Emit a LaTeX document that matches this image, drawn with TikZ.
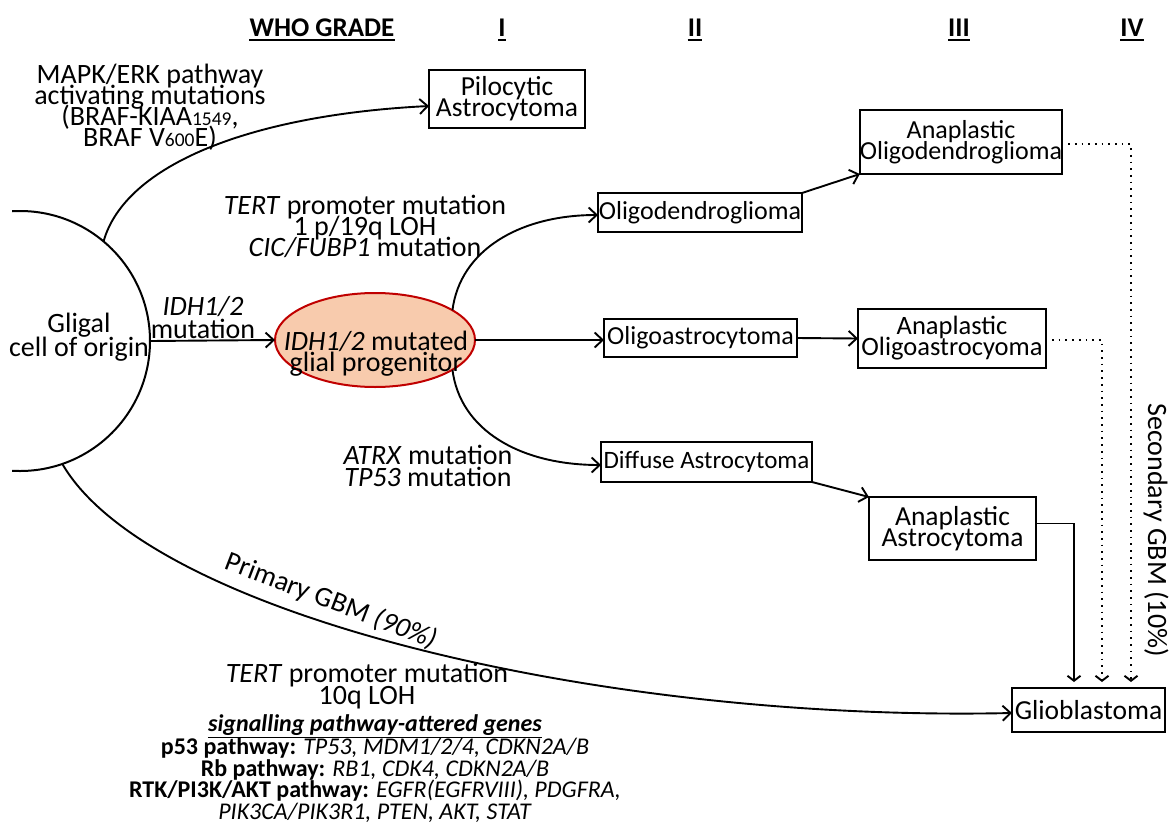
\documentclass[tikz,border=0pt]{standalone}
\usepackage{fontspec}
\setmainfont{Carlito}
\usetikzlibrary{arrows.meta,shapes.geometric}
\definecolor{peach}{HTML}{F8CBAD}
\definecolor{darkred}{HTML}{C00000}
\newcommand\myfs[2]{\fontsize{#1}{#2}\selectfont\lineskiplimit=-60pt\relax}
\begin{document}
\begin{tikzpicture}[x=1pt,y=-1pt,
  box/.style={draw, line width=2pt, inner sep=0pt, outer sep=0pt, align=center, font=\myfs{26}{21}},
  bigbox/.style={box, font=\myfs{27.5}{21}},
  lbl/.style={align=center, inner sep=0pt, font=\myfs{28}{21}},
  arr/.style={line width=1.9pt, -{Straight Barb[length=8pt,width=15pt]}},
  varr/.style={line width=1.9pt, -{Straight Barb[length=5pt,width=13pt]}, shorten >=6pt},
  dotl/.style={line width=1.7pt, dash pattern=on 1.7pt off 5pt, -{Straight Barb[length=5pt,width=13pt,line width=1.9pt]}, shorten >=6pt},
  uline/.style={line width=2pt},
  grade/.style={inner sep=0pt, anchor=base, font=\bfseries\myfs{27}{27}}]
\useasboundingbox (0,0) rectangle (1176,825);

% header
\node[grade] (who) at (322,36) {WHO GRADE};
\node[grade] (g1) at (502,36) {I};
\node[grade] (g2) at (695,36) {II};
\node[grade] (g3) at (959,36) {III};
\node[grade] (g4) at (1132,36) {IV};
\foreach \n in {who,g1,g2,g3,g4}
  \draw[uline] ([yshift=-4pt]\n.base west) -- ([yshift=-4pt]\n.base east);

% cell of origin
\begin{scope}
  \clip (12,0) rectangle (1176,825);
  \node[circle, draw, line width=2pt, minimum size=260pt, inner sep=0pt, outer sep=0pt] (origin) at (20,341) {};
\end{scope}
\node[lbl, font=\myfs{28}{24}] (origtext) at (79,337) {Gligal\\cell of origin};

% progenitor
\node[ellipse, draw=darkred, fill=peach, line width=2pt, minimum width=200pt, minimum height=94pt, inner sep=0pt, outer sep=0pt] (prog) at (375,340) {};
\node[lbl] (progtext) at (376,354) {\textit{IDH1/2} mutated\\glial progenitor};

% boxes
\node[bigbox, minimum width=156pt, minimum height=58pt] (pilo) at (507,99) {Pilocytic\\Astrocytoma};
\node[box, minimum width=204pt, minimum height=39pt] (oligoden) at (700,212.5) {Oligodendroglioma};
\node[box, minimum width=193pt, minimum height=38pt] (oligoastro) at (700.5,338) {Oligoastrocytoma};
\node[box, minimum width=211pt, minimum height=40pt, font=\myfs{25}{21}] (diffuse) at (706.5,462) {Diffuse Astrocytoma};
\node[box, minimum width=202pt, minimum height=64pt] (aod) at (961,142) {Anaplastic\\Oligodendroglioma};
\node[box, minimum width=188pt, minimum height=59pt, font=\myfs{26.5}{21}] (aoa) at (952,338.5) {Anaplastic\\Oligoastrocyoma};
\node[bigbox, minimum width=167pt, minimum height=63pt] (aa) at (952.5,528.5) {Anaplastic\\Astrocytoma};
\node[bigbox, minimum width=153pt, minimum height=44pt] (glio) at (1088.5,710) {Glioblastoma};

% labels
\node[lbl] (mapk) at (150,107) {MAPK/ERK pathway\\activating mutations\\(BRAF-KIAA{\myfs{19.5}{21}1549},\\BRAF V{\myfs{19.5}{21}600}E)};
\node[lbl] (tert1) at (365,226) {\textit{TERT} promoter mutation\\1 p/19q LOH\\\textit{CIC/FUBP1} mutation};
\node[lbl, font=\myfs{28}{23}] (idhlbl) at (203,318) {\textit{IDH1/2}\\mutation};
\node[lbl, font=\myfs{28}{22}] (atrx) at (428,466) {\textit{ATRX} mutation\\\textit{TP53} mutation};
\node[lbl, font=\myfs{28}{22}] (tert2) at (367,686) {\textit{TERT} promoter mutation\\10q LOH};
\node[inner sep=0pt, font=\bfseries\itshape\myfs{24}{22}] (sig) at (375,725) {signalling pathway-attered genes};
\draw[line width=1.4pt] ([yshift=-6pt]sig.base west) -- ([yshift=-6pt]sig.base east);
\node[align=center, inner sep=0pt, font=\myfs{24}{21.7}] (paths) at (375,780) {\textbf{p53 pathway:} \textit{TP53, MDM1/2/4, CDKN2A/B}\\\textbf{Rb pathway:} \textit{RB1, CDK4, CDKN2A/B}\\\textbf{RTK/PI3K/AKT pathway:} \textit{EGFR(EGFRVIII), PDGFRA,}\\\textit{PIK3CA/PIK3R1, PTEN, AKT, STAT}};
\node[lbl, rotate=-21] (primlbl) at (331,601) {Primary GBM \textit{(90\%)}};
\node[lbl, rotate=-90] (seclbl) at (1156,530) {Secondary GBM (10\%)};

% connectors
\draw[arr] (origin.50) .. controls (125,165) and (250,115) .. ([yshift=-7pt]pilo.west);
\draw[arr] (origin.east) -- (prog.west);
\draw[arr] (origin.-71) .. controls (150,615) and (600,722) .. ([yshift=-3pt]glio.west);
\draw[arr] (prog.21) .. controls (460,250) and (520,215) .. ([yshift=-2.5pt]oligoden.west);
\draw[arr] (prog.-21) .. controls (460,430) and (520,465) .. ([yshift=-3pt]diffuse.west);
\draw[arr] (prog.east) -- (prog.east -| oligoastro.west);
\draw[arr] (oligoden.north east) -- (aod.south west);
\draw[arr] (oligoastro.east) -- (aoa.west);
\draw[arr] (diffuse.south east) -- (aa.north west);
\draw[varr] ([yshift=5pt]aa.east) -| ([xshift=-14.5pt]glio.north);
\draw[dotl] ([xshift=6pt,yshift=-1.5pt]aoa.east) -| ([xshift=13.5pt]glio.north);
\draw[dotl] ([xshift=6pt,yshift=-2pt]aod.east) -| ([xshift=42.5pt]glio.north);
\end{tikzpicture}
\end{document}
